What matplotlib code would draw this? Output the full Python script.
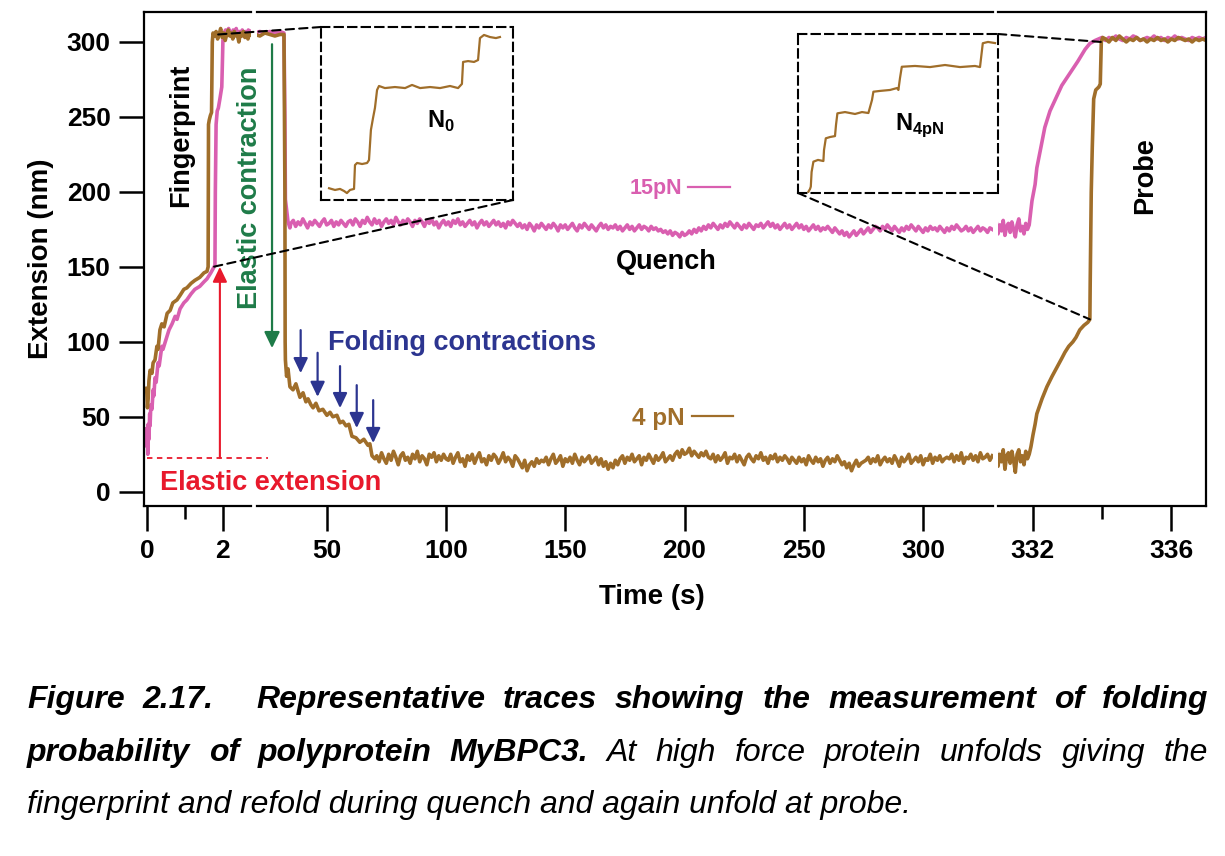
import matplotlib
matplotlib.use("Agg")
import matplotlib.pyplot as plt
from matplotlib.patches import ConnectionPatch
import numpy as np

plt.rcParams['font.family'] = ['Liberation Sans', 'DejaVu Sans']
plt.rcParams['font.weight'] = 'bold'
plt.rcParams['axes.labelweight'] = 'bold'
plt.rcParams['mathtext.fontset'] = 'custom'
plt.rcParams['mathtext.rm'] = 'Liberation Sans'
plt.rcParams['mathtext.bf'] = 'Liberation Sans:bold'

PINK = '#d95fb0'
BROWN = '#a06e2a'
GREEN = '#1e7b48'
BLUE = '#2c3590'
RED = '#e8192c'

# ---------------- data (time in s, extension in nm) ----------------
# fingerprint pulse (first broken segment)
fp_t_15pN = [-0.01, 0.00, 0.01, 0.02, 0.03, 0.05, 0.07, 0.08, 0.10, 0.13,
             0.16, 0.18, 0.21, 0.24, 0.29, 0.32, 0.39, 0.42, 0.53, 0.58,
             0.66, 0.74, 0.79, 0.87, 0.97, 1.05, 1.16, 1.26, 1.39, 1.50,
             1.58, 1.68, 1.79, 1.80, 1.82, 1.85, 1.88, 1.92, 1.97, 1.99,
             2.00, 2.03, 2.07, 2.11, 2.15, 2.19, 2.23, 2.27, 2.31, 2.35,
             2.39, 2.43, 2.47, 2.51, 2.55, 2.59, 2.63, 2.67, 2.71, 2.74]
fp_y_15pN = [42, 30, 38, 25, 45, 35, 52, 44, 58, 55,
             68, 64, 76, 73, 86, 84, 97, 95, 104, 108,
             112, 117, 115, 122, 126, 128, 132, 135, 137, 140,
             142, 146, 151, 200, 245, 254, 256, 262, 270, 290,
             301, 306, 308, 305, 309, 306, 304, 308, 306, 309,
             305, 307, 306, 308, 304, 307, 306, 308, 305, 307]

fp_t_4pN = [-0.01, 0.01, 0.03, 0.05, 0.08, 0.13, 0.16, 0.21, 0.26, 0.29,
            0.34, 0.39, 0.45, 0.53, 0.61, 0.68, 0.79, 0.87, 0.97, 1.05,
            1.16, 1.26, 1.39, 1.50, 1.58, 1.61, 1.62, 1.64, 1.67, 1.70,
            1.72, 1.74, 1.78, 1.82, 1.86, 1.90, 1.94, 1.98, 2.02, 2.06,
            2.10, 2.14, 2.18, 2.22, 2.26, 2.30, 2.34, 2.38, 2.42, 2.46,
            2.50, 2.54, 2.58, 2.62, 2.66, 2.70, 2.74]
fp_y_4pN = [69, 56, 62, 74, 81, 79, 86, 88, 97, 95,
            108, 112, 110, 119, 121, 126, 128, 131, 135, 136,
            139, 141, 143, 146, 147, 150, 245, 248, 251, 253,
            300, 306, 304, 307, 302, 305, 309, 303, 306, 301,
            305, 308, 304, 306, 302, 307, 304, 305, 300, 306,
            304, 307, 303, 305, 302, 306, 305]

# quench (second segment): transition part, then plateau sampled every 1 s
q_t_15pN_head = [20.0, 22.0, 24.1, 26.2, 28.3, 30.4, 32.1, 32.5, 32.7, 33.2, 33.8, 34.6]
q_y_15pN_head = [306, 307, 306, 307, 306, 307, 306, 250, 195, 188, 180, 176]
q_y_15pN_plateau = [
    179, 181, 177, 180, 178, 182, 179, 176, 180, 178, 181, 179, 177, 180, 182, 178, 179, 181, 177, 180,
    178, 181, 179, 177, 180,
    181, 178, 182, 180, 177, 181, 179, 183, 180, 178, 182, 179, 181, 177, 180, 182, 179, 181, 178, 183,
    180, 178, 181, 179, 182, 180, 177, 181, 179, 182,
    180, 177, 181, 179, 182, 178, 180, 176, 179, 181, 178, 180, 177, 181, 179, 182, 178, 180, 177, 179,
    181, 178, 180, 176, 179, 181, 178, 180, 177, 179, 181, 178, 180, 177, 179, 176, 180, 178, 181, 179,
    177, 179, 176, 178, 175, 179, 177, 174, 178, 176, 179, 177, 175, 178, 176, 179, 177, 174, 178, 176,
    178, 175, 177, 179, 176, 174, 178, 176, 179, 177, 175, 178, 176, 174, 177, 179, 176, 178, 175, 177,
    176, 178, 175, 177, 174, 176, 178, 175, 177, 174, 176, 178, 175, 177, 176, 174, 177, 175, 176, 174,
    175, 173, 174, 172, 174, 171, 173, 172, 170, 173, 171, 172, 174, 172, 175, 173,
    176, 174, 177, 175, 178, 176, 179, 177, 175, 178, 176, 179, 177, 180, 178, 176, 179, 177, 175, 178,
    176, 179, 177, 175, 178,
    177, 179, 176, 178, 180, 177, 179, 176, 178, 175, 177, 179, 176, 178, 175, 177, 179, 176, 178, 175,
    177, 174, 176, 178, 175, 177, 174, 176, 175, 177,
    175, 173, 176, 174, 172, 174, 171, 173, 170, 172, 174, 171, 173, 175, 172, 174, 176, 173, 175, 177,
    176, 174, 177, 175, 178, 176, 174, 177, 175, 173, 176, 174, 177, 175, 178, 176, 174, 177, 175, 173,
    176, 174, 177, 175, 176, 174, 177, 175, 173, 176, 174, 177, 175, 178, 176, 174, 175, 177, 174, 176,
    173, 175, 177, 174, 176, 175, 173, 176, 175]
q_t_15pN_plateau = np.arange(35, 35 + len(q_y_15pN_plateau))

q_t_4pN_head = [20.0, 22.0, 24.1, 26.2, 28.3, 30.4, 32.1, 32.5, 32.6, 32.7,
                33.2, 33.8, 34.6, 35.9, 37.1, 38.8, 40.1, 41.3, 42.2, 43.4,
                44.3, 45.5, 46.8, 48.4, 50.1, 51.4, 52.6, 54.3, 55.6, 56.8,
                58.1, 59.3, 60.6, 62.3, 63.9, 65.6, 67.3, 68.1, 69.0, 70.2]
q_y_4pN_head = [305, 304, 306, 305, 304, 305, 305, 200, 100, 88,
                77, 82, 70, 68, 72, 63, 66, 60, 62, 58,
                56, 59, 54, 55, 51, 53, 50, 51, 46, 47,
                44, 45, 37, 36, 33, 35, 31, 32, 24, 22]
q_y_4pN_plateau = [
    24, 20, 26, 22, 19, 25, 21, 27, 23, 18, 24, 26, 21, 23, 19, 25, 22, 27, 20, 24,
    22, 18, 25, 23, 26, 20, 24, 21, 25, 22,
    21, 25, 19, 23, 26, 20, 22, 17, 24, 21, 25, 19, 23, 26, 20, 22, 18, 24, 21, 25,
    23, 19, 22, 26, 20, 23, 21, 17, 24, 22,
    19, 16, 21, 14, 18, 20, 17, 22, 19, 21,
    20, 23, 18, 22, 25, 19, 21, 24, 17, 22, 20, 23, 19, 25, 21, 18, 23, 20, 22, 24,
    19, 21, 23, 18, 22,
    17, 20, 15, 19, 16, 21, 18,
    22, 24, 19, 23, 21, 25, 20, 22, 24, 18, 23, 21, 25, 22, 19, 24, 21, 23, 26, 20,
    22, 24, 21,
    25, 27, 23, 28, 25, 26, 29, 24, 27, 25, 23, 26, 24, 27, 23,
    22, 25, 20, 24, 21, 23, 26, 19, 23, 22, 25, 20, 24, 21, 18, 23, 25, 22, 20, 24,
    22, 26, 21, 23, 19, 24, 22, 25, 20, 23, 21, 24, 22, 19, 23,
    21, 19, 23, 20, 22, 18, 24, 21, 19, 23, 20, 22, 17, 21, 23, 19, 22, 20, 24, 21,
    18, 20, 16, 19, 14, 18, 21, 17, 19, 20,
    21, 23, 19, 22, 20, 24, 18, 21, 23, 20, 22, 19, 24, 21, 17, 23, 20, 22, 25, 19,
    21, 23, 20, 24, 18, 22, 21, 25, 19, 23, 21, 24, 20, 22, 23,
    22, 25, 20, 24, 21, 26, 19, 23, 22, 25, 21, 24, 20, 26, 22, 23, 25, 21, 24]
q_t_4pN_plateau = np.arange(71, 71 + len(q_y_4pN_plateau))

# probe pulse (third segment)
pr_t_pre = np.linspace(330.9, 331.9, 21)
pr_y_15pN_pre = [176, 180, 172, 178, 174, 181, 171, 177, 179, 173, 180,
                 175, 170, 178, 182, 174, 177, 172, 179, 175, 178]
pr_y_4pN_pre = [22, 27, 17, 25, 20, 28, 15, 24, 26, 19, 27,
                21, 13, 25, 28, 20, 24, 18, 27, 22, 25]
pr_t_15pN_rise = [331.98, 332.07, 332.12, 332.24, 332.35, 332.50, 332.64,
                  332.84, 333.07, 333.30, 333.51, 333.65, 333.80]
pr_y_15pN_rise = [194, 205, 216, 230, 243, 254, 261, 271, 279, 287, 295, 299, 301]
pr_t_15pN_top = np.linspace(333.9, 337.0, 32)
pr_y_15pN_top = [302, 303, 301, 303, 302, 304, 302, 301, 303, 302, 304, 303, 301, 302, 303, 302,
                 304, 302, 303, 301, 303, 302, 304, 302, 303, 302, 301, 303, 302, 303, 302, 303]
pr_t_4pN_rise = [331.95, 332.01, 332.07, 332.12, 332.27, 332.41, 332.56, 332.70, 332.84,
                 332.93, 333.04, 333.16, 333.25, 333.36, 333.48, 333.59, 333.65, 333.66,
                 333.69, 333.72, 333.76, 333.82, 333.91, 333.95, 333.98, 334.02]
pr_y_4pN_rise = [30, 38, 45, 52, 62, 70, 77, 83, 89, 93, 97, 100, 103, 108, 111, 113,
                 115, 140, 200, 230, 262, 268, 270, 272, 300, 303]
pr_t_4pN_top = np.linspace(334.1, 337.0, 30)
pr_y_4pN_top = [302, 300, 303, 301, 304, 302, 300, 302, 301, 303, 301, 302, 300, 302, 301,
                303, 301, 302, 300, 302, 301, 303, 302, 301, 302, 300, 302, 301, 302, 301]

# zoomed insets (arbitrary 0-100 units inside each dashed box)
n0_x = [4.2, 7.3, 9.9, 12.0, 13.5, 15.1, 17.2, 17.7, 18.8, 21.4, 24.0, 25.0, 26.0, 27.1,
        28.1, 29.2, 30.2, 33.3, 38.5, 43.8, 47.4, 51.6, 56.8, 62.0, 67.2, 71.4, 73.4,
        74.0, 76.6, 79.7, 81.8, 82.8, 84.9, 88.0, 91.1, 93.2]
n0_y = [6.8, 5.8, 6.4, 5.2, 4.0, 5.8, 6.4, 20.2, 21.4, 20.8, 21.4, 23.1, 40.5, 47.4,
        53.2, 63.6, 65.9, 64.7, 65.3, 64.7, 66.5, 64.7, 65.3, 64.7, 65.9, 64.7, 67.1,
        79.8, 80.3, 79.8, 80.9, 93.6, 95.4, 94.2, 93.6, 94.2]
n4_x = [5.2, 6.0, 6.4, 6.8, 7.7, 10.0, 12.7, 13.0, 13.9, 16.0, 18.5, 19.0, 19.7, 23.5,
        28.5, 32.0, 35.2, 37.0, 37.7, 41.0, 46.0, 49.5, 50.2, 51.0, 51.9, 58.5, 66.0,
        73.5, 81.0, 88.5, 91.0, 92.4, 95.0, 98.5]
n4_y = [0.8, 2.5, 4.0, 13.2, 19.7, 20.8, 20.1, 27.0, 34.4, 35.2, 35.8, 42.8, 50.1, 50.9,
        49.7, 50.9, 50.3, 58.5, 63.7, 64.2, 64.8, 66.0, 64.8, 72.3, 79.4, 79.9, 79.2,
        80.5, 79.2, 79.9, 79.2, 94.2, 95.0, 94.3]

# annotation arrows (time, extension)
fold_arrow_t = [39.1, 46.2, 55.6, 62.6, 69.5]
fold_arrow_top = [107.8, 92.7, 83.8, 71.1, 61.1]
fold_arrow_tip = [79.1, 63.3, 55.8, 42.5, 32.5]
elastic_level = 22.5

# ---------------- figure ----------------
W, H = 1225, 856
fig = plt.figure(figsize=(W / 100, H / 100), dpi=100)


def box(left, right, top=12, bottom=506):
    return [left / W, 1 - bottom / H, (right - left) / W, (bottom - top) / H]


ax1 = fig.add_axes(box(144, 251))
ax2 = fig.add_axes(box(257, 993), sharey=ax1)
ax3 = fig.add_axes(box(998, 1206), sharey=ax1)

lw = 2.6
ax1.plot(fp_t_15pN, fp_y_15pN, color=PINK, lw=lw)
ax1.plot(fp_t_4pN, fp_y_4pN, color=BROWN, lw=lw)

ax2.plot(np.concatenate([q_t_15pN_head, q_t_15pN_plateau]),
         np.concatenate([q_y_15pN_head, q_y_15pN_plateau]), color=PINK, lw=lw)
ax2.plot(np.concatenate([q_t_4pN_head, q_t_4pN_plateau]),
         np.concatenate([q_y_4pN_head, q_y_4pN_plateau]), color=BROWN, lw=lw)

ax3.plot(np.concatenate([pr_t_pre, pr_t_15pN_rise, pr_t_15pN_top]),
         np.concatenate([pr_y_15pN_pre, pr_y_15pN_rise, pr_y_15pN_top]), color=PINK, lw=lw)
ax3.plot(np.concatenate([pr_t_pre, pr_t_4pN_rise, pr_t_4pN_top]),
         np.concatenate([pr_y_4pN_pre, pr_y_4pN_rise, pr_y_4pN_top]), color=BROWN, lw=lw)

ax1.set_xlim(-0.08, 2.74)
ax2.set_xlim(20.8, 329.3)
ax3.set_xlim(331.0, 337.0)
ax1.set_ylim(-9.5, 320)

ax1.set_xticks([0, 2])
ax1.set_xticks([1], minor=True)
ax2.set_xticks([50, 100, 150, 200, 250, 300])
ax3.set_xticks([332, 336])
ax3.set_xticks([334], minor=True)
ax1.set_yticks([0, 50, 100, 150, 200, 250, 300])

for ax in (ax1, ax2, ax3):
    ax.set_facecolor('none')
    for s in ax.spines.values():
        s.set_linewidth(1.6)
    ax.tick_params(axis='both', which='major', direction='out', length=18,
                   width=1.8, labelsize=19, pad=6)
    ax.tick_params(axis='x', which='minor', direction='out', length=9, width=1.8)
ax1.spines['right'].set_visible(False)
ax2.spines['left'].set_visible(False)
ax2.spines['right'].set_visible(False)
ax3.spines['left'].set_visible(False)
for ax in (ax2, ax3):
    ax.tick_params(axis='y', left=False, labelleft=False)

ax1.set_ylabel('Extension (nm)', fontsize=20, fontweight='bold')
ax1.yaxis.set_label_coords((54 - 144) / 107, 0.5)
fig.text(652 / W, 1 - 597 / H, 'Time (s)', ha='center', va='center', fontsize=20)

# ---------------- annotations ----------------
arrow_style = '-|>,head_length=0.75,head_width=0.36'
ax1.text(0.895, 238, 'Fingerprint', rotation=90, ha='center', va='center', fontsize=19.5)
ax1.text(2.71, 202.5, 'Elastic contraction', rotation=90, ha='center', va='center',
         fontsize=19.5, color=GREEN)
ax2.annotate('', xy=(27.1, 95.8), xytext=(27.1, 298.5),
             arrowprops=dict(arrowstyle=arrow_style, color=GREEN, lw=1.6,
                             shrinkA=0, shrinkB=0, mutation_scale=13))

ax1.plot([0, 3.18], [elastic_level, elastic_level], color=RED, lw=1.3,
         ls=(0, (3, 2.5)), clip_on=False)
ax1.annotate('', xy=(1.92, 150), xytext=(1.92, elastic_level),
             arrowprops=dict(arrowstyle=arrow_style, color=RED, lw=1.5,
                             shrinkA=0, shrinkB=0, mutation_scale=12))
ax1.text(0.34, 5.8, 'Elastic extension', ha='left', va='center', fontsize=19.5, color=RED)

for t, top, tip in zip(fold_arrow_t, fold_arrow_top, fold_arrow_tip):
    ax2.annotate('', xy=(t, tip), xytext=(t, top),
                 arrowprops=dict(arrowstyle=arrow_style, color=BLUE, lw=1.6,
                                 shrinkA=0, shrinkB=0, mutation_scale=12))
ax2.text(50.5, 99.1, 'Folding contractions', ha='left', va='center', fontsize=19.5, color=BLUE)

ax2.text(177.1, 202.5, '15pN', ha='left', va='center', fontsize=15.5, color=PINK)
ax2.plot([201.4, 219.0], [203, 203], color=PINK, lw=1.6)
ax2.text(177.9, 49.1, '4 pN', ha='left', va='center', fontsize=17.5, color=BROWN)
ax2.plot([203.1, 220.3], [50.5, 50.5], color=BROWN, lw=1.6)
ax2.text(192.2, 153, 'Quench', ha='center', va='center', fontsize=19.5)
ax3.text(335.23, 211, 'Probe', rotation=90, ha='center', va='center', fontsize=19.5)

# ---------------- insets ----------------
ins1 = fig.add_axes(box(321, 513, 27, 200))
ins2 = fig.add_axes(box(798, 998, 34, 193))
for ins, xs, ys in ((ins1, n0_x, n0_y), (ins2, n4_x, n4_y)):
    ins.set_facecolor('none')
    ins.plot(xs, ys, color=BROWN, lw=1.6)
    ins.set_xlim(0, 100)
    ins.set_ylim(0, 100)
    ins.set_xticks([])
    ins.set_yticks([])
    for s in ins.spines.values():
        s.set_linestyle((0, (4, 2.5)))
        s.set_linewidth(1.5)
ins1.text(55.2, 41.6, r'$\mathbf{N}_{\mathbf{0}}$', fontsize=17, ha='left', va='baseline')
ins2.text(48.5, 39.6, r'$\mathbf{N}_{\mathbf{4pN}}$', fontsize=17, ha='left', va='baseline')

links = [(ins1, (0, 1), ax1, (1.87, 305)),
         (ins1, (1, 0), ax1, (1.74, 150)),
         (ins2, (0, 0), ax3, (333.65, 115)),
         (ins2, (1, 1), ax3, (333.98, 300))]
for ins, corner, ax, pt in links:
    con = ConnectionPatch(xyA=corner, coordsA='axes fraction', axesA=ins,
                          xyB=pt, coordsB='data', axesB=ax,
                          color='black', lw=1.5, ls=(0, (4, 2.5)))
    fig.add_artist(con)

# ---------------- caption ----------------
renderer = fig.canvas.get_renderer()


def justified(words, base_px, wide_after=None, x0=27, x1=1208):
    arts = [fig.text(0, 1 - base_px / H, w, fontsize=23, fontstyle='italic',
                     fontweight='bold' if bold else 'normal', va='baseline', ha='left')
            for w, bold in words]
    widths = [a.get_window_extent(renderer).width for a in arts]
    weights = [2.4 if i == wide_after else 1.0 for i in range(len(arts) - 1)]
    gap = (x1 - x0 - sum(widths)) / sum(weights)
    x = x0
    for i, a in enumerate(arts):
        a.set_x(x / W)
        if i < len(weights):
            x += widths[i] + gap * weights[i]


line1 = [(w, True) for w in
         "Figure 2.17. Representative traces showing the measurement of folding".split()]
line2 = ([(w, True) for w in "probability of polyprotein MyBPC3.".split()] +
         [(w, False) for w in "At high force protein unfolds giving the".split()])
justified(line1, 708, wide_after=1)
justified(line2, 761)
fig.text(27 / W, 1 - 813 / H,
         'fingerprint and refold during quench and again unfold at probe.',
         fontsize=23, fontstyle='italic', fontweight='normal', va='baseline', ha='left')

fig.savefig('out.png', dpi=100)
